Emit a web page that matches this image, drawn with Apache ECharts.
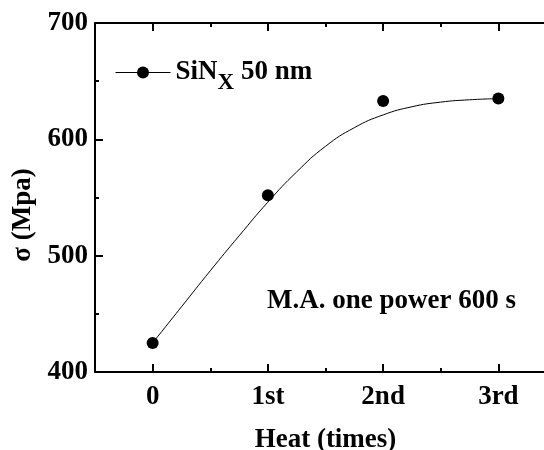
<!DOCTYPE html>
<html>
<head>
<meta charset="utf-8">
<script src="https://cdn.jsdelivr.net/npm/echarts@6/dist/echarts.min.js"></script>
<style>
  html, body { margin: 0; padding: 0; background: #fff; overflow: hidden; }
  #chart { width: 544px; height: 450px; }
</style>
</head>
<body>
<div id="chart"></div>
<script>
  // measured points
  const heatX = [0, 1, 2, 3];
  const heatLabels = ['0', '1st', '2nd', '3rd'];
  const stress = [425, 552, 633, 635];
  // fitted curve
  const fitX = [0, 0.25, 0.5, 0.75, 1, 1.25, 1.5, 1.75, 2, 2.25, 2.5, 2.75, 3];
  const fitY = [425, 456, 487, 517, 546, 572, 594, 610, 621, 628, 632, 634, 635];

  const font = 'Liberation Serif';
  const labelStyle = { fontFamily: font, fontWeight: 'bold', fontSize: 27, color: '#000' };
  const axisLine = { show: true, onZero: false, lineStyle: { color: '#000', width: 2 } };

  const chart = echarts.init(document.getElementById('chart'));

  // tick axis: ticks from min (-0.5) give the short ones, minor ticks the long ones
  function tickAxis(pos) {
    return {
      type: 'value', position: pos, min: -0.5, max: 3.5, interval: 1,
      axisLine: axisLine,
      axisTick: { show: true, inside: true, length: 4, lineStyle: { color: '#000', width: 2 } },
      minorTick: { show: true, splitNumber: 2, length: 8, lineStyle: { color: '#000', width: 2 } },
      axisLabel: { show: false },
      splitLine: { show: false }, minorSplitLine: { show: false }
    };
  }

  const option = {
    animation: false,
    // plot runs past the right edge of the picture
    grid: { left: 95, top: 23, width: 461, height: 349, outerBoundsMode: 'none', containLabel: false },
    xAxis: [
      tickAxis('bottom'),
      tickAxis('top'),
      { // labels only
        type: 'value', position: 'bottom', min: -0.5, max: 3.5, interval: 0.5,
        axisLine: { show: false, onZero: false }, axisTick: { show: false }, splitLine: { show: false },
        axisLabel: Object.assign({
          margin: 12,
          formatter: function (v) {
            const i = heatX.indexOf(v);
            return i >= 0 ? heatLabels[i] : '';
          }
        }, labelStyle),
        name: 'Heat (times)', nameLocation: 'middle', nameGap: 55,
        nameTextStyle: labelStyle
      }
    ],
    yAxis: {
      type: 'value', min: 400, max: 700, interval: 100,
      axisLine: axisLine,
      axisTick: { show: true, inside: true, length: 8, lineStyle: { color: '#000', width: 2 } },
      minorTick: { show: true, splitNumber: 2, length: 4, lineStyle: { color: '#000', width: 2 } },
      axisLabel: Object.assign({ margin: 7 }, labelStyle),
      splitLine: { show: false }, minorSplitLine: { show: false }
    },
    legend: {
      left: 115, top: 59, padding: 0,
      itemWidth: 55, itemHeight: 15,
      lineStyle: { color: '#000', width: 1, opacity: 1 },
      data: ['SiNx 50 nm'],
      formatter: function () { return '{a|SiN}{b|X}{a| 50 nm}'; },
      textStyle: {
        rich: {
          a: { fontFamily: font, fontWeight: 'bold', fontSize: 27, color: '#000' },
          b: { fontFamily: font, fontWeight: 'bold', fontSize: 23, color: '#000', padding: [22, 0, 0, 0] }
        }
      }
    },
    graphic: [
      {
        type: 'text', x: 267, y: 301.5,
        style: { text: 'M.A. one power 600 s', font: 'bold 27px "Liberation Serif"', fill: '#000', verticalAlign: 'middle' }
      },
      {
        type: 'text', x: 23, y: 215, rotation: Math.PI / 2,
        style: { text: 'σ (Mpa)', font: 'bold 27px "Liberation Serif"', fill: '#000', align: 'center', verticalAlign: 'middle' }
      }
    ],
    series: [
      {
        name: 'fit', type: 'line', xAxisIndex: 0, smooth: true, symbol: 'none',
        lineStyle: { color: '#000', width: 1 },
        data: fitX.map(function (x, i) { return [x, fitY[i]]; })
      },
      {
        name: 'SiNx 50 nm', type: 'line', xAxisIndex: 0,
        symbol: 'circle', symbolSize: 12,
        itemStyle: { color: '#000' },
        lineStyle: { width: 0, opacity: 0 },
        data: heatX.map(function (x, i) { return [x, stress[i]]; })
      }
    ]
  };

  chart.setOption(option);
</script>
</body>
</html>
